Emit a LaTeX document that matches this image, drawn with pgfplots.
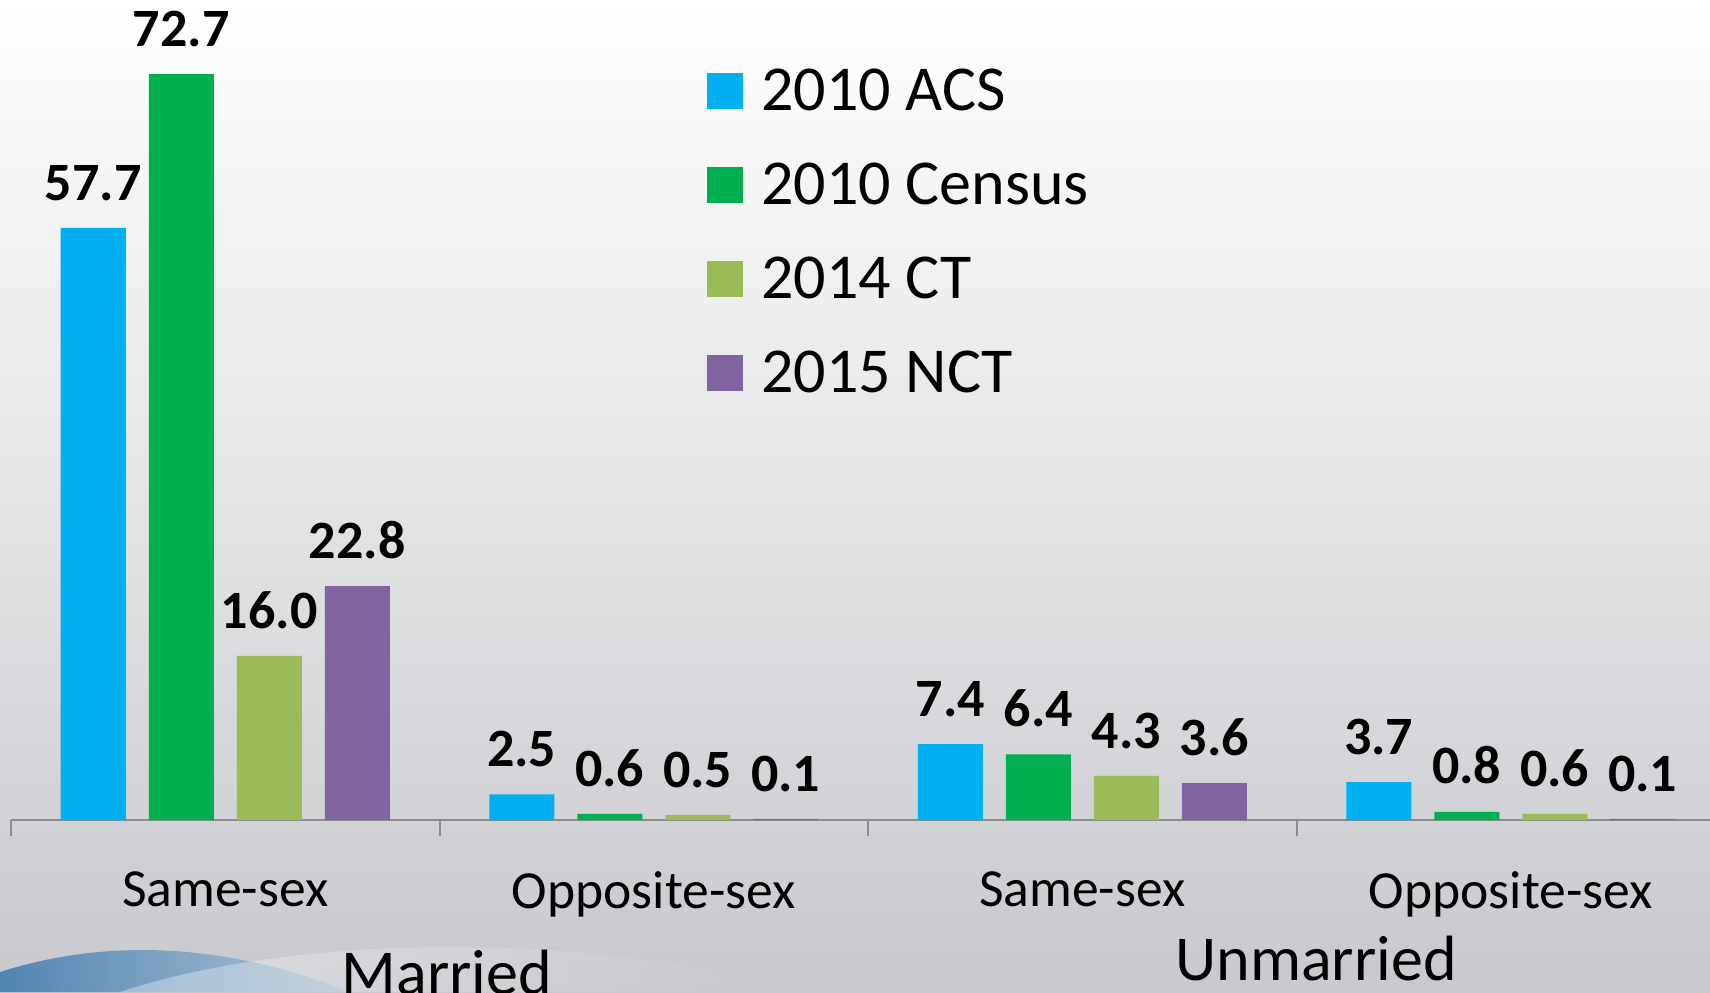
\documentclass[border=0pt]{standalone}
\usepackage{fontspec}
\setmainfont{Carlito}
\usepackage{pgfplots}
\pgfplotsset{compat=1.18}
\definecolor{cACS}{HTML}{00B0F0}
\definecolor{cCEN}{HTML}{00B050}
\definecolor{cCT}{HTML}{9BBB59}
\definecolor{cNCT}{HTML}{8064A2}
\definecolor{bgbot}{RGB}{200,201,205}
\definecolor{bgmid}{RGB}{244,244,244}
\definecolor{swA}{RGB}{40,110,170}
\definecolor{swB}{RGB}{170,195,215}
\begin{document}
\begin{tikzpicture}
\useasboundingbox (0,0) rectangle (855pt,496pt);
\clip (0,0) rectangle (855pt,496pt);
\shade[top color=white, middle color=bgmid, bottom color=bgbot] (0,0) rectangle (855pt,496pt);
\shade[left color=swA, right color=swB, opacity=0.75] (0,0) -- (0,10pt) .. controls (50pt,26pt) and (110pt,26pt) .. (175pt,0) -- cycle;
\shade[left color=white, right color=bgbot, opacity=0.35] (60pt,0) .. controls (150pt,30pt) and (300pt,30pt) .. (400pt,0) -- cycle;
\begin{axis}[
  at={(5.5pt,86pt)}, anchor=south west, scale only axis,
  width=849.5pt, height=410pt,
  xmin=-0.5, xmax=3.465, ymin=0, ymax=79.92,
  axis x line=bottom, axis y line=none,
  x axis line style={-, draw=gray!90, line width=1pt},
  ybar=11.5pt, bar width=32.5pt,
  xtick={0,1,2,3},
  xticklabels={Same-sex,Opposite-sex,Same-sex,Opposite-sex},
  major tick length=0pt,
  minor xtick={-0.5,0.5,1.5,2.5},
  minor tick length=8pt,
  tick align=outside,
  every tick/.style={draw=gray!90, line width=1pt},
  xticklabel style={font=\fontsize{26.8}{30}\selectfont, anchor=north, inner sep=0pt, yshift=-25.5pt},
  nodes near coords,
  every node near coord/.append style={font=\fontsize{27}{30}\selectfont\bfseries, inner sep=0pt, anchor=south, yshift=13.5pt, text=black},
  /pgf/number format/.cd, fixed, fixed zerofill, precision=1, assume math mode=true, /pgfplots/.cd,
  legend style={at={(0.4097,0.9164)}, anchor=north west, draw=none, fill=none,
    font=\fontsize{32}{36}\selectfont, inner sep=0pt, row sep=24.7pt,
    nodes={inner sep=0pt},
    /tikz/every odd column/.append style={column sep=9pt}},
  legend cell align=left,
  legend image code/.code={\fill[#1] (0pt,-9pt) rectangle (18pt,9pt);},
]
\addplot[fill=cACS, draw=none] coordinates {(0,57.7) (1,2.5) (2,7.4) (3,3.7)};
\addplot[fill=cCEN, draw=none] coordinates {(0,72.7) (1,0.6) (2,6.4) (3,0.8)};
\addplot[fill=cCT, draw=none] coordinates {(0,16.0) (1,0.5) (2,4.3) (3,0.6)};
\addplot[fill=cNCT, draw=none] coordinates {(0,22.8) (1,0.1) (2,3.6) (3,0.1)};
\legend{2010 ACS, 2010 Census, 2014 CT, 2015 NCT}
\end{axis}
\node[anchor=base, font=\fontsize{32}{38}\selectfont, inner sep=0pt] at (223.5pt,-1pt) {Married};
\node[anchor=base, font=\fontsize{32}{38}\selectfont, inner sep=0pt] at (658pt,6pt) {Unmarried};
\end{tikzpicture}
\end{document}
